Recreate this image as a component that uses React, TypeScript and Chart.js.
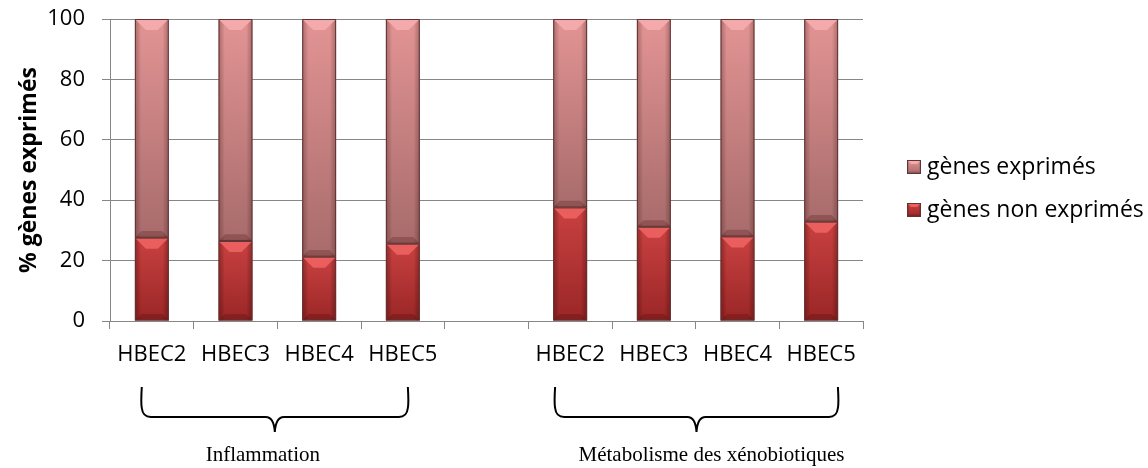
import React, { useEffect, useRef } from "react";
import { Chart, registerables } from "chart.js";

Chart.register(...registerables);

// ---- data ----
const categories = ["HBEC2", "HBEC3", "HBEC4", "HBEC5", "", "HBEC2", "HBEC3", "HBEC4", "HBEC5"];
const nonExpressed: (number | null)[] = [27.6, 26.5, 21.3, 25.6, null, 37.6, 31.2, 28.0, 32.9];
const expressed: (number | null)[] = [72.4, 73.5, 78.7, 74.4, null, 62.4, 68.8, 72.0, 67.1];
const yTicks = [0, 20, 40, 60, 80, 100];
const seriesLabels = ["gènes non exprimés", "gènes exprimés"];
const groupLabels = ["Inflammation", "Métabolisme des xénobiotiques"];
const groupFirst = [0, 5];
const groupLast = [3, 8];

// ---- style ----
const SANS = "'Open Sans', 'DejaVu Sans', sans-serif";
const SERIF = "'Liberation Serif', 'DejaVu Serif', serif";
const GRID = "#878787";
const PALETTE = [
  { top: "#c94141", bottom: "#9a2626", bevel: "#ea5e5e", edge: "rgba(70,0,0,0.35)" },
  { top: "#e39494", bottom: "#a86b6b", bevel: "#f4aaaa", edge: "rgba(70,20,20,0.30)" },
];
const BRACE = {
  fromOffset: [-0.12, -0.18],
  toOffset: [0.06, 0.2],
  labelShift: [-12, 15],
  top: 387,
  bottom: 417,
  tip: 432,
  labelY: 455,
};
const LEGEND = { boxX: 907, textX: 927, rowsY: [167, 210], box: 14 };

function barGradient(ctx: CanvasRenderingContext2D, p: typeof PALETTE[0], y0: number, y1: number) {
  const g = ctx.createLinearGradient(0, y0, 0, y1);
  g.addColorStop(0, p.top);
  g.addColorStop(1, p.bottom);
  return g;
}

function drawBevelBox(
  ctx: CanvasRenderingContext2D,
  p: typeof PALETTE[0],
  left: number,
  top: number,
  width: number,
  height: number,
  bevelSize: number
) {
  const right = left + width;
  const bottom = top + height;
  const hg = ctx.createLinearGradient(left, 0, right, 0);
  hg.addColorStop(0, p.edge);
  hg.addColorStop(0.18, "rgba(0,0,0,0)");
  hg.addColorStop(0.82, "rgba(0,0,0,0)");
  hg.addColorStop(1, p.edge);
  ctx.fillStyle = hg;
  ctx.fillRect(left, top, width, height);
  const b = Math.min(bevelSize, height / 3, width / 3);
  ctx.fillStyle = p.bevel;
  ctx.beginPath();
  ctx.moveTo(left, top);
  ctx.lineTo(right, top);
  ctx.lineTo(right - b, top + b);
  ctx.lineTo(left + b, top + b);
  ctx.closePath();
  ctx.fill();
  ctx.fillStyle = "rgba(60,0,0,0.22)";
  ctx.beginPath();
  ctx.moveTo(left, bottom);
  ctx.lineTo(right, bottom);
  ctx.lineTo(right - b * 0.6, bottom - b * 0.6);
  ctx.lineTo(left + b * 0.6, bottom - b * 0.6);
  ctx.closePath();
  ctx.fill();
  ctx.strokeStyle = "#5e3434";
  ctx.lineWidth = 1;
  ctx.strokeRect(left + 0.5, top + 0.5, width - 1, height - 1);
}

const bevelPlugin = {
  id: "bevel",
  afterDatasetsDraw(chart: any) {
    const ctx: CanvasRenderingContext2D = chart.ctx;
    ctx.save();
    chart.data.datasets.forEach((ds: any, di: number) => {
      const meta = chart.getDatasetMeta(di);
      meta.data.forEach((el: any, i: number) => {
        if (ds.data[i] == null) return;
        const { x, y, base, width } = el.getProps(["x", "y", "base", "width"], true);
        const top = Math.min(y, base);
        const h = Math.abs(base - y);
        drawBevelBox(ctx, PALETTE[di], x - width / 2, top, width, h, 11);
      });
    });
    ctx.restore();
  },
};

const bracePlugin = {
  id: "braces",
  afterDraw(chart: any) {
    const ctx: CanvasRenderingContext2D = chart.ctx;
    const xs = chart.scales.x;
    const cw = xs.width / categories.length;
    ctx.save();
    ctx.strokeStyle = "#000";
    ctx.lineWidth = 2;
    groupLabels.forEach((label, g) => {
      const L = xs.getPixelForValue(groupFirst[g]) + BRACE.fromOffset[g] * cw;
      const R = xs.getPixelForValue(groupLast[g]) + BRACE.toOffset[g] * cw;
      const M = (L + R) / 2;
      const T = BRACE.top;
      const B = BRACE.bottom;
      const P = BRACE.tip;
      const r = 9;
      ctx.beginPath();
      ctx.moveTo(L, T);
      ctx.quadraticCurveTo(L - 1, B - r * 1.5, L, B - r);
      ctx.quadraticCurveTo(L + 1, B, L + r, B);
      ctx.lineTo(M - 9, B);
      ctx.quadraticCurveTo(M - 1, B, M, P);
      ctx.quadraticCurveTo(M + 1, B, M + 9, B);
      ctx.lineTo(R - r, B);
      ctx.quadraticCurveTo(R - 1, B, R, B - r);
      ctx.quadraticCurveTo(R + 1, B - r * 1.5, R, T);
      ctx.stroke();
      ctx.fillStyle = "#000";
      ctx.font = `21px ${SERIF}`;
      ctx.textAlign = "center";
      ctx.textBaseline = "middle";
      ctx.fillText(label, M + BRACE.labelShift[g], BRACE.labelY);
    });
    ctx.restore();
  },
};

const legendPlugin = {
  id: "customLegend",
  afterDraw(chart: any) {
    const ctx: CanvasRenderingContext2D = chart.ctx;
    ctx.save();
    const order = [1, 0];
    order.forEach((di, row) => {
      const cy = LEGEND.rowsY[row];
      const s = LEGEND.box;
      const top = cy - s / 2;
      ctx.fillStyle = barGradient(ctx, PALETTE[di], top, top + s);
      ctx.fillRect(LEGEND.boxX, top, s, s);
      drawBevelBox(ctx, PALETTE[di], LEGEND.boxX, top, s, s, 4);
      ctx.fillStyle = "#000";
      ctx.font = `23px ${SANS}`;
      ctx.textAlign = "left";
      ctx.textBaseline = "middle";
      ctx.fillText(seriesLabels[di], LEGEND.textX, cy);
    });
    ctx.restore();
  },
};

function makeBg(di: number) {
  return (c: any) => {
    const chart = c.chart;
    const ys = chart.scales?.y;
    if (c.type !== "data" || !ys || !chart.chartArea) return PALETTE[di].top;
    const i = c.dataIndex;
    const lower = di === 0 ? 0 : (nonExpressed[i] ?? 0);
    const val = di === 0 ? (nonExpressed[i] ?? 0) : (expressed[i] ?? 0);
    return barGradient(chart.ctx, PALETTE[di], ys.getPixelForValue(lower + val), ys.getPixelForValue(lower));
  };
}

export default function App() {
  const ref = useRef<HTMLCanvasElement>(null);
  useEffect(() => {
    const canvas = ref.current!;
    const chart = new Chart(canvas, {
      type: "bar",
      data: {
        labels: categories,
        datasets: [
          {
            label: seriesLabels[0],
            data: nonExpressed as any,
            backgroundColor: makeBg(0) as any,
            borderWidth: 0,
            categoryPercentage: 0.5,
            barPercentage: 0.81,
          },
          {
            label: seriesLabels[1],
            data: expressed as any,
            backgroundColor: makeBg(1) as any,
            borderWidth: 0,
            categoryPercentage: 0.5,
            barPercentage: 0.81,
          },
        ],
      },
      options: {
        animation: false,
        responsive: false,
        maintainAspectRatio: false,
        layout: { padding: { top: 19, right: 285, bottom: 0, left: 0 } },
        plugins: { legend: { display: false }, tooltip: { enabled: false } },
        scales: {
          x: {
            stacked: true,
            grid: { offset: true, drawOnChartArea: false, drawTicks: true, tickLength: 8, color: GRID },
            border: { color: GRID, width: 1 },
            ticks: {
              font: { family: SANS, size: 22 },
              color: "#000",
              padding: 13,
              autoSkip: false,
              maxRotation: 0,
            },
            afterFit: (s: any) => {
              s.height = 147;
              s.paddingLeft = 0;
              s.paddingRight = 0;
            },
          },
          y: {
            stacked: true,
            min: 0,
            max: 100,
            afterBuildTicks: (s: any) => {
              s.ticks = yTicks.map((v) => ({ value: v }));
            },
            grid: { color: GRID, tickLength: 8 },
            border: { color: GRID, width: 1 },
            ticks: { font: { family: SANS, size: 22 }, color: "#000", padding: 17 },
            title: {
              display: true,
              text: "% gènes exprimés",
              font: { family: SANS, size: 23, weight: "bold" },
              color: "#000",
              padding: { top: 16, bottom: 0 },
            },
            afterFit: (s: any) => {
              s.width = 110;
              s.paddingTop = 0;
              s.paddingBottom = 0;
            },
          },
        },
      },
      plugins: [bevelPlugin, bracePlugin, legendPlugin],
    });
    return () => chart.destroy();
  }, []);
  return (
    <div style={{ position: "absolute", left: 0, top: 0, width: 1148, height: 468, background: "#fff" }}>
      <canvas ref={ref} width={1148} height={468} style={{ display: "block" }} />
    </div>
  );
}
